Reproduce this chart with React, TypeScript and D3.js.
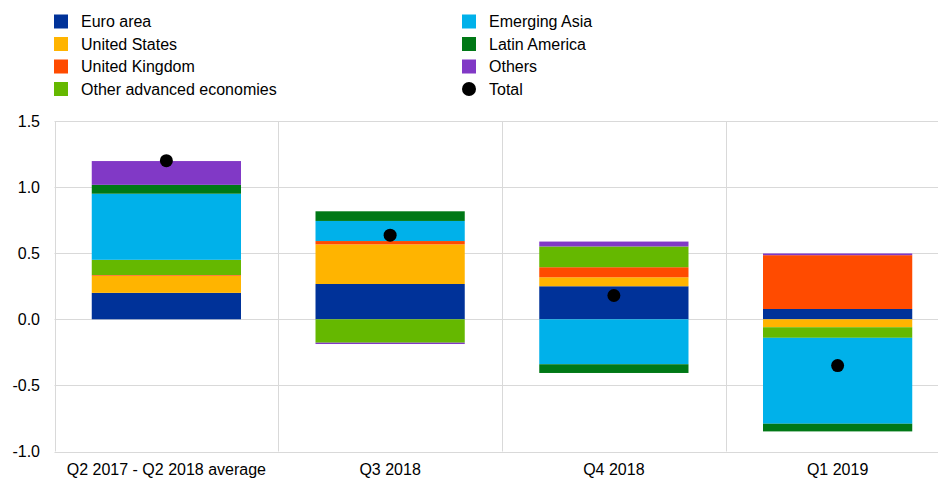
import React from "react";
import * as d3 from "d3";

const categories = ["Q2 2017 - Q2 2018 average", "Q3 2018", "Q4 2018", "Q1 2019"];
const seriesNames = [
  "Euro area",
  "United States",
  "United Kingdom",
  "Other advanced economies",
  "Emerging Asia",
  "Latin America",
  "Others",
];
const seriesColors = ["#003299", "#FFB400", "#FF4B00", "#65B800", "#00B1EA", "#007816", "#8139C6"];
const euroArea = [0.2, 0.267, 0.25, 0.078];
const unitedStates = [0.13, 0.3, 0.068, -0.06];
const unitedKingdom = [0.005, 0.025, 0.076, 0.407];
const otherAdvanced = [0.115, -0.177, 0.157, -0.08];
const emergingAsia = [0.5, 0.152, -0.34, -0.65];
const latinAmerica = [0.067, 0.073, -0.066, -0.058];
const others = [0.18, -0.01, 0.037, 0.013];
const total = [1.2, 0.636, 0.18, -0.35];
const yTicks = [-1.0, -0.5, 0.0, 0.5, 1.0, 1.5];

const W = 938;
const H = 479;
const FONT = "'Liberation Sans', Arial, sans-serif";
const FS = 16;

export default function App() {
  const seriesValues = [euroArea, unitedStates, unitedKingdom, otherAdvanced, emergingAsia, latinAmerica, others];
  const rows = categories.map((c, i) => {
    const r: Record<string, any> = { cat: c };
    seriesNames.forEach((s, j) => (r[s] = seriesValues[j][i]));
    return r;
  });
  const stacked = d3
    .stack<any>()
    .keys(seriesNames)
    .order(d3.stackOrderNone)
    .offset(d3.stackOffsetDiverging)(rows);

  const x = d3.scaleBand<string>().domain(categories).range([54.5, 949.5]).paddingInner(0).paddingOuter(0);
  const y = d3.scaleLinear().domain([-1, 1.5]).range([451.5, 121]);
  const bw = x.bandwidth() * 0.667;
  const grid = "#d9d9d9";
  const fmt = (t: number) => d3.format(".1f")(t).replace("\u2212", "-");

  const legendLeft = [
    { name: "Euro area", color: seriesColors[0] },
    { name: "United States", color: seriesColors[1] },
    { name: "United Kingdom", color: seriesColors[2] },
    { name: "Other advanced economies", color: seriesColors[3] },
  ];
  const legendRight = [
    { name: "Emerging Asia", color: seriesColors[4] },
    { name: "Latin America", color: seriesColors[5] },
    { name: "Others", color: seriesColors[6] },
    { name: "Total", color: "#000" },
  ];
  const rowY = (i: number) => 21.5 + i * 22.5;

  return (
    <svg width={W} height={H} style={{ position: "absolute", left: 0, top: 0 }} fontFamily={FONT}>
      <rect width={W} height={H} fill="#fff" />
      {yTicks.map((t) => (
        <line key={"h" + t} x1={54.5} x2={W} y1={Math.round(y(t)) + 0.5} y2={Math.round(y(t)) + 0.5} stroke={grid} strokeWidth={1} />
      ))}
      {[...categories.map((c) => x(c)!), 949.5].map((xv, i) => (
        <line key={"v" + i} x1={Math.round(xv) + 0.5} x2={Math.round(xv) + 0.5} y1={y(1.5)} y2={y(-1)} stroke={grid} strokeWidth={1} />
      ))}
      {yTicks.map((t) => (
        <text key={"t" + t} x={40} y={y(t)} dy="0.35em" textAnchor="end" fontSize={FS} fill="#000">
          {fmt(t)}
        </text>
      ))}
      {stacked.map((layer, j) => (
        <g key={layer.key} fill={seriesColors[j]}>
          {layer.map((d, i) => {
            const cx = x(categories[i])! + x.bandwidth() / 2;
            const y0 = y(d[0]);
            const y1 = y(d[1]);
            return <rect key={i} x={cx - bw / 2} y={Math.min(y0, y1)} width={bw} height={Math.abs(y0 - y1)} />;
          })}
        </g>
      ))}
      {total.map((v, i) => (
        <circle key={"d" + i} cx={x(categories[i])! + x.bandwidth() / 2} cy={y(v)} r={6.5} fill="#000" />
      ))}
      {categories.map((c) => (
        <text key={"x" + c} x={x(c)! + x.bandwidth() / 2} y={475} textAnchor="middle" fontSize={FS} fill="#000">
          {c}
        </text>
      ))}
      {legendLeft.map((l, i) => (
        <g key={l.name}>
          <rect x={54} y={rowY(i) - 7} width={14} height={14} fill={l.color} />
          <text x={81} y={rowY(i)} dy="0.35em" fontSize={FS} fill="#000">
            {l.name}
          </text>
        </g>
      ))}
      {legendRight.map((l, i) => (
        <g key={l.name}>
          {l.name === "Total" ? (
            <circle cx={469} cy={rowY(i)} r={7} fill="#000" />
          ) : (
            <rect x={462} y={rowY(i) - 7} width={14} height={14} fill={l.color} />
          )}
          <text x={489} y={rowY(i)} dy="0.35em" fontSize={FS} fill="#000">
            {l.name}
          </text>
        </g>
      ))}
    </svg>
  );
}
